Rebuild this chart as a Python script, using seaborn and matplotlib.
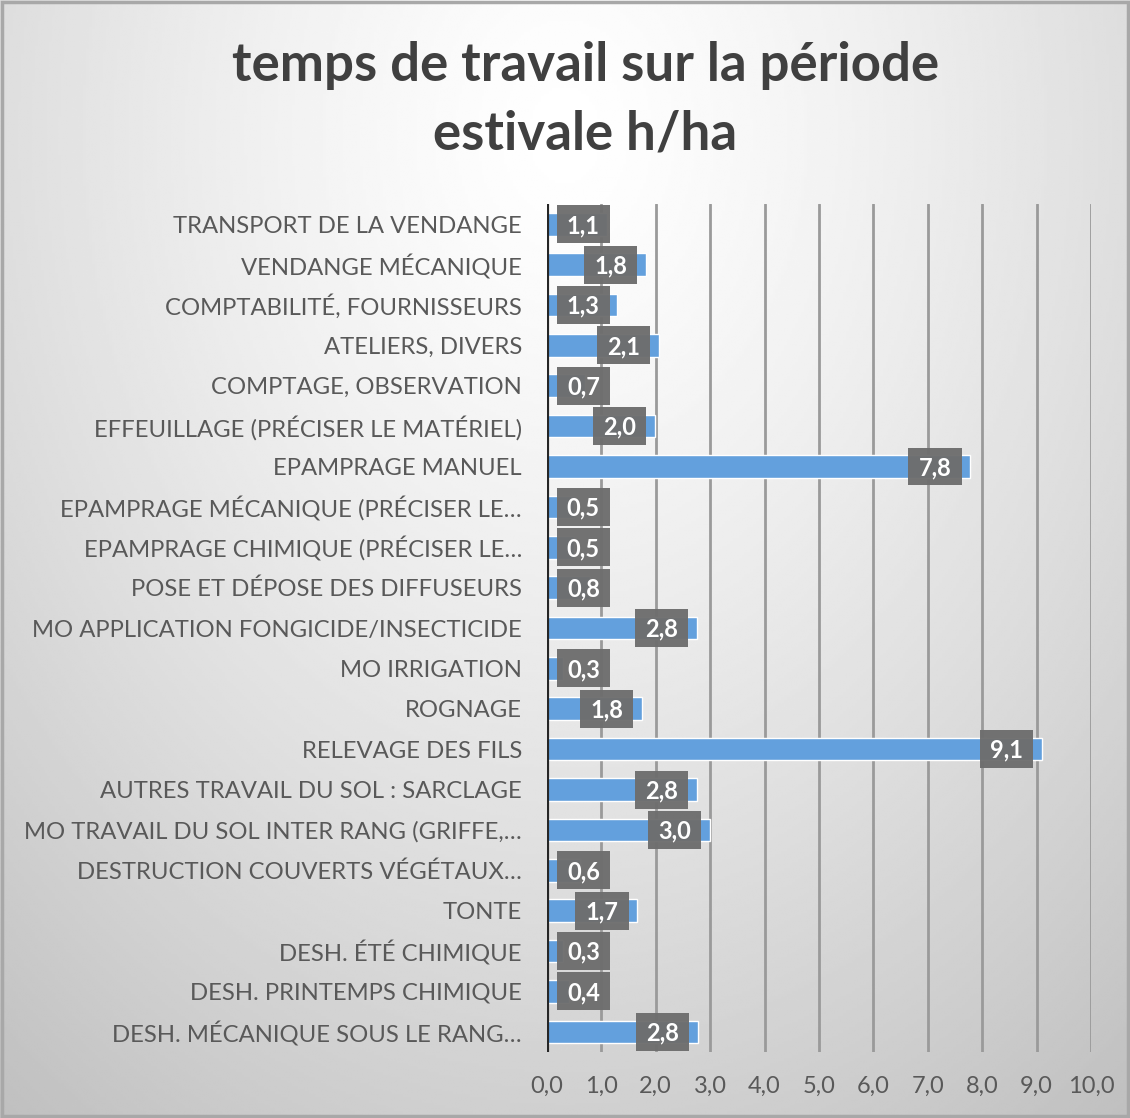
import numpy as np
import pandas as pd
import matplotlib
matplotlib.use('Agg')
import matplotlib.pyplot as plt
import seaborn as sns
from matplotlib.patches import Rectangle

TITLE = "temps de travail sur la période\nestivale h/ha"

TASKS = [
    "TRANSPORT DE LA VENDANGE",
    "VENDANGE MÉCANIQUE",
    "COMPTABILITÉ, FOURNISSEURS",
    "ATELIERS, DIVERS",
    "COMPTAGE, OBSERVATION",
    "EFFEUILLAGE (PRÉCISER LE MATÉRIEL)",
    "EPAMPRAGE MANUEL",
    "EPAMPRAGE MÉCANIQUE (PRÉCISER LE…",
    "EPAMPRAGE CHIMIQUE (PRÉCISER LE…",
    "POSE ET DÉPOSE DES DIFFUSEURS",
    "MO APPLICATION FONGICIDE/INSECTICIDE",
    "MO IRRIGATION",
    "ROGNAGE",
    "RELEVAGE DES FILS",
    "AUTRES TRAVAIL DU SOL : SARCLAGE",
    "MO TRAVAIL DU SOL INTER RANG (GRIFFE,…",
    "DESTRUCTION COUVERTS VÉGÉTAUX…",
    "TONTE",
    "DESH. ÉTÉ CHIMIQUE",
    "DESH. PRINTEMPS CHIMIQUE",
    "DESH. MÉCANIQUE SOUS LE RANG…",
]
HOURS = [1.10, 1.82, 1.29, 2.06, 0.70, 1.99, 7.78, 0.50, 0.50, 0.80, 2.76,
         0.30, 1.75, 9.10, 2.75, 3.00, 0.60, 1.66, 0.30, 0.40, 2.78]
XTICKS = [0, 1, 2, 3, 4, 5, 6, 7, 8, 9, 10]

FONT = ['Lato', 'DejaVu Sans']
BAR_COLOR = "#63A0DD"
BOX_COLOR = "#6E6E6E"
TXT_COLOR = "#595959"

df = pd.DataFrame({"task": TASKS, "hours": HOURS})

sns.set_style("white")
plt.rcParams['font.family'] = FONT

fig = plt.figure(figsize=(11.3, 11.18), dpi=100)

# radial grey background like the Excel chart area
bg = fig.add_axes([0, 0, 1, 1], zorder=-10)
yy, xx = np.mgrid[0:1:400j, 0:1:400j]
r = np.sqrt(((xx - 0.5) / 0.75) ** 2 + ((yy - 0.12) / 1.0) ** 2)
shade = 1.0 - 0.22 * np.clip(r, 0, 1.2) ** 1.3
bg.imshow(shade, cmap="gray", vmin=0, vmax=1, extent=[0, 1, 0, 1],
          origin="upper", aspect="auto", interpolation="bilinear")
bg.add_patch(Rectangle((0.002, 0.002), 0.996, 0.996, fill=False,
                       edgecolor="#a8a8a8", lw=2.5))
bg.set_xlim(0, 1); bg.set_ylim(0, 1)
bg.axis("off")

ax = fig.add_axes([0.484, 0.059, 0.4815, 0.7585])
ax.set_facecolor("none")

sns.barplot(data=df, x="hours", y="task", orient="h", color=BAR_COLOR,
            saturation=1, width=0.56, ax=ax, zorder=3)

ax.set_xlim(0, 10)
ax.set_ylim(len(TASKS) - 0.5, -0.5)
ax.set_xticks(XTICKS)
ax.set_xticklabels([("%.1f" % t).replace(".", ",") for t in XTICKS],
                   fontsize=17, color=TXT_COLOR)
ax.tick_params(axis="x", length=0, pad=17)
ax.tick_params(axis="y", length=0, pad=18, labelsize=17.2, labelcolor=TXT_COLOR)
ax.set_xlabel("")
ax.set_ylabel("")
for s in ax.spines.values():
    s.set_visible(False)

for t in XTICKS[1:]:
    ax.axvline(t, color="#9a9a9a", lw=2, zorder=1)
ax.axvline(0, color="#262626", lw=3, zorder=5)

# data labels in grey boxes at the bar end
for i, v in enumerate(HOURS):
    right = max(v - 0.16, 1.16)
    ax.add_patch(Rectangle((right - 0.98, i - 0.47), 0.98, 0.94,
                           facecolor=BOX_COLOR, edgecolor="none",
                           alpha=0.97, zorder=6))
    ax.text(right - 0.49, i + 0.03, ("%.1f" % v).replace(".", ","),
            ha="center", va="center", color="white", fontsize=17,
            fontweight="bold", zorder=7)

fig.text(0.518, 0.911, TITLE, ha="center", va="center", fontsize=38,
         fontweight="bold", color="#404040", linespacing=1.5)

fig.savefig("out.png", dpi=100)
